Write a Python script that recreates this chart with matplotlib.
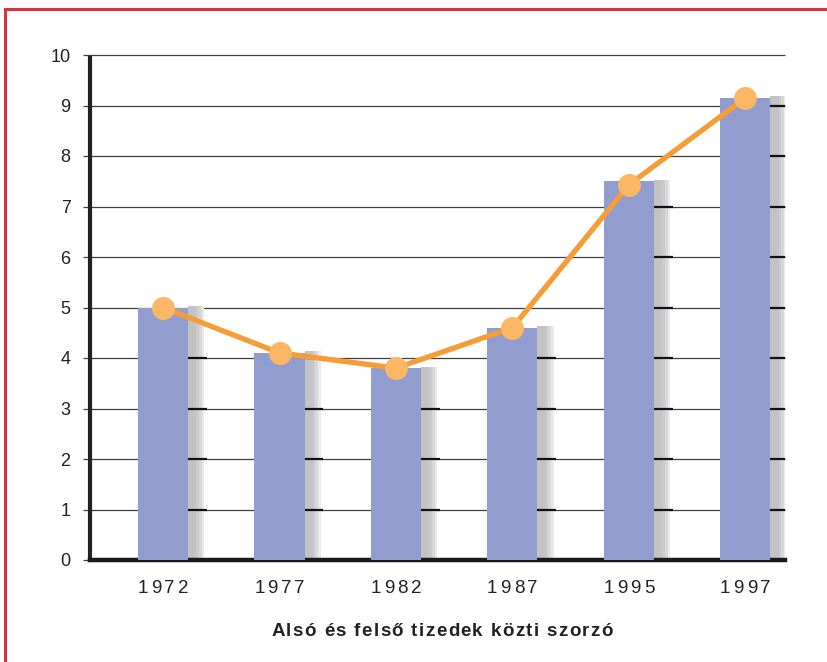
import matplotlib
matplotlib.use("Agg")
import matplotlib.pyplot as plt
from matplotlib.patches import Rectangle

years = ["1972", "1977", "1982", "1987", "1995", "1997"]
bar_values = [5.0, 4.1, 3.8, 4.6, 7.5, 9.15]
line_values = [5.0, 4.1, 3.8, 4.6, 7.43, 9.15]
title = "Alsó és felső tizedek közti szorzó"

W, H = 827, 662
plt.rcParams["font.family"] = ["Liberation Sans", "DejaVu Sans"]

fig = plt.figure(figsize=(W / 100, H / 100), dpi=100)


def tracked_text(cx, y, s, tracking, **kw):
    # draw text char by char with extra letter spacing (pixels, from top-left)
    r = fig.canvas.get_renderer()

    def width(t):
        tt = fig.text(0, 0, t, **kw)
        e = tt.get_window_extent(r).width
        tt.remove()
        return e

    base = width("xx")
    widths = [width("x" + c + "x") - base for c in s]
    total = sum(widths) + tracking * (len(s) - 1)
    x = cx - total / 2
    for c, cw in zip(s, widths):
        if c != " ":
            fig.text(x / W, 1 - y / H, c, ha="left", va="baseline", **kw)
        x += cw + tracking


# red frame (only top and left visible)
fig.patches.append(Rectangle((5 / W, -0.1), 1.2, (H - 9) / H + 0.1,
                             transform=fig.transFigure, fill=False,
                             edgecolor="#d8323c", lw=2.2, zorder=0))

ax = fig.add_axes([90 / W, 102 / H, 695 / W, 505 / H])
x = list(range(len(years)))
bw = 0.43
sw = 0.14

ax.set_xlim(-0.627, 5.34)
ax.set_ylim(0, 10)

# grid lines, extending a bit left of the axis
for yv in range(0, 11):
    ax.plot([-0.69, 5.34], [yv, yv], color="#404040", lw=0.9, zorder=1,
            clip_on=False, solid_capstyle="butt")

# shadows with horizontal gradient
shades = ["#c2c2c5", "#c2c2c5", "#c4c4c7", "#cbcbce", "#d8d8da", "#eaeaeb"]
for xi, v in zip(x, bar_values):
    x0 = xi + bw / 2
    step = sw / len(shades)
    for k, c in enumerate(shades):
        ax.add_patch(Rectangle((x0 + k * step, 0), step * 1.01, v + 0.03,
                               facecolor=c, edgecolor="none", zorder=2))
    for yv in range(1, 11):
        if yv < v:
            ax.plot([x0, x0 + sw + 0.02], [yv, yv], color="#111111", lw=1.6,
                    zorder=3, solid_capstyle="butt")

ax.bar(x, bar_values, width=bw, color="#919dce", zorder=4)

ax.plot(x, line_values, color="#f79d38", lw=3.8, zorder=5,
        marker="o", markersize=15.5, markerfacecolor="#fbb763",
        markeredgecolor="#fbb763")

for s in ["top", "right"]:
    ax.spines[s].set_visible(False)
ax.spines["left"].set_linewidth(3)
ax.spines["left"].set_color("#222222")
ax.spines["left"].set_bounds(0, 9.95)
ax.spines["bottom"].set_linewidth(3.2)
ax.spines["bottom"].set_color("#1a1a1a")

ax.set_yticks(range(0, 11))
ax.set_yticklabels([str(i) for i in range(0, 11)], fontsize=13, color="#222222")
ax.tick_params(axis="y", length=0, pad=14)
ax.set_xticks(x)
ax.set_xticklabels([])
ax.tick_params(axis="x", length=0)

# year labels with letter spacing
for xi, yr in zip(x, years):
    px = ax.transData.transform((xi, 0))[0]
    tracked_text(px, 593, yr, 3.0, fontsize=13.5, color="#222222")

tracked_text(442, 636, title, 1.35, fontsize=13.5, fontweight="bold",
             color="#222222")

fig.savefig("out.png", dpi=100)
